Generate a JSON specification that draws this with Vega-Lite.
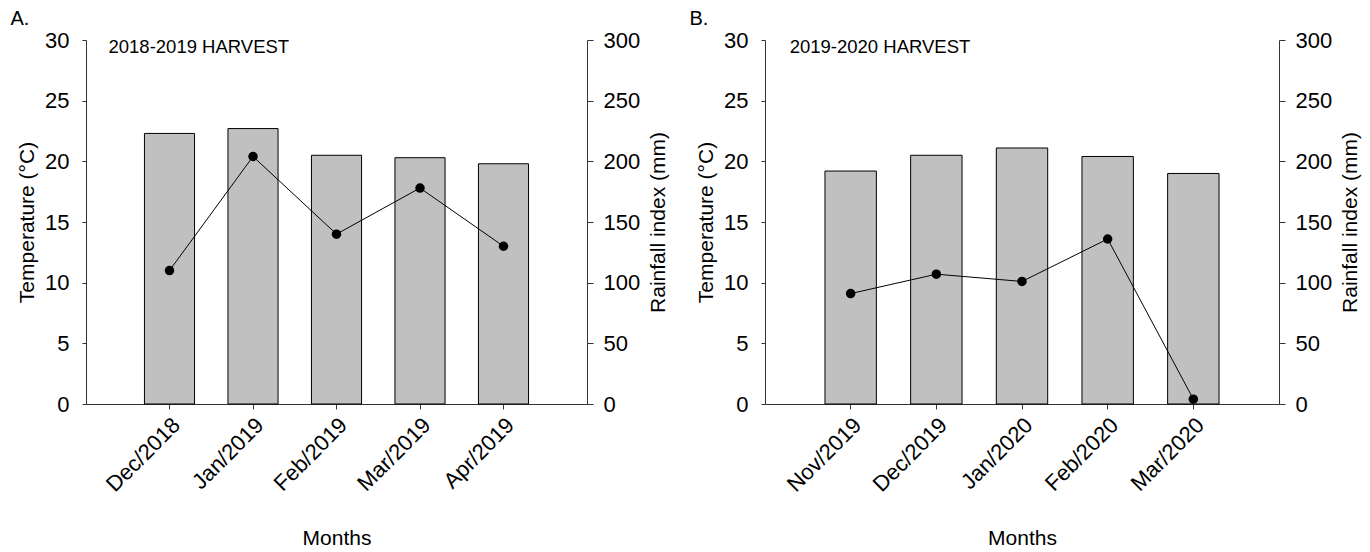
{
  "$schema": "https://vega.github.io/schema/vega-lite/v6.json",
  "padding": {"left": 10, "top": 9, "right": 5, "bottom": 0},
  "background": "white",
  "config": {
    "font": "Liberation Sans",
    "view": {"stroke": null},
    "axis": {
      "labelFont": "Liberation Sans",
      "titleFont": "Liberation Sans",
      "labelColor": "#000",
      "titleColor": "#000",
      "domainColor": "#333",
      "tickColor": "#333",
      "grid": false,
      "titleFontWeight": "normal",
      "labelFontSize": 22,
      "titleFontSize": 21
    },
    "title": {"font": "Liberation Sans", "fontWeight": "normal", "color": "#000"}
  },
  "datasets": {
    "a": [
      {"month": "Dec/2018", "temp": 22.3, "rain": 110},
      {"month": "Jan/2019", "temp": 22.7, "rain": 204},
      {"month": "Feb/2019", "temp": 20.5, "rain": 140},
      {"month": "Mar/2019", "temp": 20.3, "rain": 178},
      {"month": "Apr/2019", "temp": 19.8, "rain": 130}
    ],
    "b": [
      {"month": "Nov/2019", "temp": 19.2, "rain": 91},
      {"month": "Dec/2019", "temp": 20.5, "rain": 107},
      {"month": "Jan/2020", "temp": 21.1, "rain": 101},
      {"month": "Feb/2020", "temp": 20.4, "rain": 136},
      {"month": "Mar/2020", "temp": 19.0, "rain": 4}
    ]
  },
  "spacing": 20,
  "hconcat": [
    {
      "title": {"text": "A.", "anchor": "start", "frame": "bounds", "fontSize": 20, "dx": -6, "offset": 0},
      "width": 501,
      "height": 364,
      "data": {"name": "a"},
      "encoding": {
        "x": {
          "field": "month", "type": "nominal", "sort": null,
          "scale": {"paddingInner": 0.4, "paddingOuter": 0.7},
          "axis": {"title": "Months", "labelAngle": -45, "labelFontSize": 22, "titleFontSize": 21, "titlePadding": 32, "labelPadding": 5, "tickSize": 5}
        }
      },
      "layer": [
        {
          "mark": {"type": "bar", "color": "#c0c0c0", "stroke": "#000", "strokeWidth": 1},
          "encoding": {
            "y": {"field": "temp", "type": "quantitative", "scale": {"domain": [0, 30]},
              "axis": {"title": "Temperature (°C)", "values": [0, 5, 10, 15, 20, 25, 30], "titlePadding": 7, "labelPadding": 13, "tickSize": 4}}
          }
        },
        {
          "mark": {"type": "line", "color": "#000", "strokeWidth": 1, "point": {"filled": true, "size": 90, "color": "#000"}},
          "encoding": {
            "y": {"field": "rain", "type": "quantitative", "scale": {"domain": [0, 300]},
              "axis": {"orient": "right", "title": "Rainfall index (mm)", "titleAngle": 270, "titleBaseline": "top", "values": [0, 50, 100, 150, 200, 250, 300], "titlePadding": 8, "labelPadding": 10, "tickSize": 6}}
          }
        },
        {
          "data": {"values": [{"label": "2018-2019 HARVEST"}]},
          "mark": {"type": "text", "align": "left", "baseline": "middle", "fontSize": 18.5, "dx": -61, "font": "Liberation Sans", "color": "#000"},
          "encoding": {
            "x": {"datum": "Dec/2018"},
            "y": {"datum": 29.45, "type": "quantitative", "scale": {"domain": [0, 30]}, "axis": null},
            "text": {"field": "label"}
          }
        }
      ],
      "resolve": {"scale": {"y": "independent"}}
    },
    {
      "title": {"text": "B.", "anchor": "start", "frame": "bounds", "fontSize": 20, "dx": -6, "offset": 0},
      "width": 514,
      "height": 364,
      "data": {"name": "b"},
      "encoding": {
        "x": {
          "field": "month", "type": "nominal", "sort": null,
          "scale": {"paddingInner": 0.4, "paddingOuter": 0.7},
          "axis": {"title": "Months", "labelAngle": -45, "labelFontSize": 22, "titleFontSize": 21, "titlePadding": 32, "labelPadding": 5, "tickSize": 5}
        }
      },
      "layer": [
        {
          "mark": {"type": "bar", "color": "#c0c0c0", "stroke": "#000", "strokeWidth": 1},
          "encoding": {
            "y": {"field": "temp", "type": "quantitative", "scale": {"domain": [0, 30]},
              "axis": {"title": "Temperature (°C)", "values": [0, 5, 10, 15, 20, 25, 30], "titlePadding": 7, "labelPadding": 13, "tickSize": 4}}
          }
        },
        {
          "mark": {"type": "line", "color": "#000", "strokeWidth": 1, "point": {"filled": true, "size": 90, "color": "#000"}},
          "encoding": {
            "y": {"field": "rain", "type": "quantitative", "scale": {"domain": [0, 300]},
              "axis": {"orient": "right", "title": "Rainfall index (mm)", "titleAngle": 270, "titleBaseline": "top", "values": [0, 50, 100, 150, 200, 250, 300], "titlePadding": 8, "labelPadding": 10, "tickSize": 6}}
          }
        },
        {
          "data": {"values": [{"label": "2019-2020 HARVEST"}]},
          "mark": {"type": "text", "align": "left", "baseline": "middle", "fontSize": 18.5, "dx": -61, "font": "Liberation Sans", "color": "#000"},
          "encoding": {
            "x": {"datum": "Nov/2019"},
            "y": {"datum": 29.45, "type": "quantitative", "scale": {"domain": [0, 30]}, "axis": null},
            "text": {"field": "label"}
          }
        }
      ],
      "resolve": {"scale": {"y": "independent"}}
    }
  ]
}
